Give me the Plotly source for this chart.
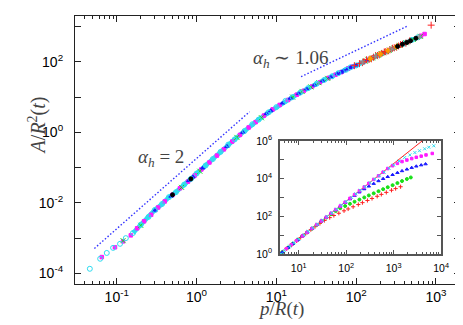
import plotly.graph_objects as go

# main plot: scaled data A/R^2 vs p/R, one list pair per colour
cyan_x = [0.046, 0.062, 0.075, 0.09, 0.11, 0.13, 0.16, 0.2, 0.25, 0.3, 0.37, 0.45, 0.55, 0.7, 0.85,
          1.0, 1.3, 1.6, 2.0, 2.5, 3.0, 4.0, 5.0, 6.0, 8.0, 10, 13, 16, 20, 25, 32, 40, 50, 60, 75,
          85, 100, 400, 500, 600]
cyan_y = [1.35e-4, 2.6e-4, 3.8e-4, 5.3e-4, 6.9e-4, 1.0e-3, 1.4e-3, 2.4e-3, 4.0e-3, 6.3e-3, 9.3e-3, 1.45e-2,
          2.0e-2, 3.3e-2, 4.8e-2, 6.8e-2, 0.115, 0.175, 0.28, 0.45, 0.63, 1.1, 1.7, 2.3, 3.7, 5.2, 7.8,
          10, 13.5, 18, 24, 31, 39, 48, 60, 70, 79, 331, 420, 500]

magenta_x = [0.065, 0.095, 0.12, 0.15, 0.18, 0.22, 0.27, 0.33, 0.4, 0.5, 0.62, 0.78, 0.95, 1.15, 1.45,
             1.8, 2.2, 2.8, 3.5, 4.5, 5.5, 7, 9, 11, 14, 18, 22, 28, 35, 45, 55, 65, 80, 90, 650, 720]
magenta_y = [2.9e-4, 5.5e-4, 8.1e-4, 1.2e-3, 1.9e-3, 3.0e-3, 4.6e-3, 7.4e-3, 1.1e-2, 1.7e-2, 2.6e-2,
             4.0e-2, 6.0e-2, 8.9e-2, 0.14, 0.22, 0.33, 0.55, 0.85, 1.38, 1.95, 3.0, 4.5, 6.0, 8.3, 11.7,
             15, 20, 26, 35, 43, 51, 66, 73, 550, 617]

blue_x = [0.3, 0.48, 0.8, 0.9, 1.2, 2.4, 3.8, 7.5, 8.5, 12, 15, 19, 24, 30, 38, 48, 58, 65, 70, 78, 85,
          92, 100, 120, 140]
blue_y = [6.0e-3, 1.55e-2, 4.3e-2, 5.4e-2, 9.8e-2, 0.40, 1.0, 3.4, 4.1, 6.8, 9.3, 12.6, 17, 22, 29, 37,
          46, 51, 56, 63, 69, 74, 81, 98, 115]

green_x = [0.12, 0.2, 0.65, 1.1, 3.2, 6.5, 16, 21, 27, 34, 44, 130, 140, 160, 175, 190, 205, 220, 240,
           260, 280, 300, 350, 420, 520, 640]
green_y = [8.5e-4, 2.3e-3, 2.75e-2, 7.9e-2, 0.72, 2.6, 10, 14.5, 19.5, 25.7, 34, 105, 118, 129, 140,
           155, 172, 182, 196, 214, 238, 251, 295, 350, 430, 530]

red_x = [95, 110, 120, 125, 135, 145, 155, 165, 175, 185, 195, 210, 225, 235, 250, 265, 285, 300, 320,
         340, 360, 380, 420, 470, 870]
red_y = [78, 89, 95, 102, 115, 117, 122, 135, 150, 151, 158, 174, 192, 195, 203, 219, 243, 251, 262,
         282, 310, 316, 340, 395, 1100]

black_x = [0.5, 0.85, 330, 380, 430, 480, 560]
black_y = [1.7e-2, 4.8e-2, 275, 316, 355, 398, 468]

orange_x = [150, 200, 250, 320]
orange_y = [123, 166, 209, 269]

gray_x = [120, 175, 280, 450, 620]
gray_y = [98, 145, 234, 372, 513]

# reference slopes (dotted)
slope2_x = [0.0525, 4.62]
slope2_y = [5.1e-4, 3.85]
slope106_x = [20.4, 442]
slope106_y = [38, 1047]

# inset: unscaled A vs p
in_cyan_x = [4.2, 5, 6.5, 8, 10, 13, 16, 20, 25, 32, 40, 50, 63, 80, 100, 130, 160, 200, 250, 320, 400,
             500, 630, 800, 1000, 1300, 1700, 2200, 2800, 3500, 4500, 5500, 7000]
in_cyan_y = [1.0, 1.5, 2.6, 4, 6.2, 10.5, 16, 25, 38, 63, 98, 150, 240, 390, 600, 1000, 1550, 2400, 3700,
             6000, 9300, 1.4e4, 2.2e4, 3.5e4, 5.3e4, 8.5e4, 1.3e5, 1.8e5, 2.4e5, 3.0e5, 3.8e5, 4.6e5, 5.5e5]

in_mag_x = [5.5, 7, 9, 12, 15, 19, 24, 30, 38, 48, 60, 75, 95, 120, 150, 190, 240, 300, 380, 480, 600,
            750, 950, 1200, 1500, 1900, 2400, 3000, 3800, 4800, 6500]
in_mag_y = [1.9, 3.1, 5.1, 9, 14, 22.5, 36, 56, 90, 144, 225, 350, 560, 900, 1400, 2250, 3600, 5600, 9000,
            1.4e4, 2.2e4, 3.4e4, 4.8e4, 6.4e4, 8.0e4, 9.6e4, 1.15e5, 1.35e5, 1.55e5, 1.8e5, 2.15e5]

in_blue_x = [4.5, 6, 7.5, 9.5, 12, 15, 19, 24, 30, 38, 48, 60, 75, 95, 120, 150, 190, 240, 300, 380,
             480, 600, 750, 950, 1200, 1500, 1900, 2400, 3000, 3800, 4700]
in_blue_y = [1.25, 2.2, 3.5, 5.6, 9, 14, 22.5, 36, 56, 90, 144, 220, 340, 520, 820, 1250, 1900, 2800,
             3900, 5400, 7500, 9800, 1.25e4, 1.6e4, 2.05e4, 2.55e4, 3.1e4, 3.8e4, 4.5e4, 5.2e4, 5.9e4]

in_green_x = [4.5, 6, 7.5, 9.5, 12, 15, 19, 24, 30, 38, 48, 60, 75, 95, 120, 150, 190, 240, 300, 380,
              480, 600, 750, 950, 1200, 1500, 1900, 2300]
in_green_y = [1.25, 2.2, 3.5, 5.6, 9, 14, 22, 35, 54, 85, 130, 190, 270, 350, 460, 590, 770, 1000, 1280,
              1650, 2150, 2750, 3500, 4500, 5800, 7400, 9500, 1.15e4]

in_red_x = [4.5, 5.5, 7, 9, 11, 14, 18, 22, 28, 35, 45, 55, 70, 90, 110, 140, 180, 220, 280, 350, 450,
            550, 700, 900, 1100, 1400]
in_red_y = [1.25, 1.9, 3.0, 5.0, 7.5, 12, 19.5, 28, 42, 60, 85, 110, 145, 195, 245, 320, 420, 530, 690,
            880, 1150, 1450, 1850, 2400, 2950, 3700]

in_line_x = [4, 4000]
in_line_y = [1, 1e6]

CYAN = '#2fdcf0'
MAGENTA = '#ff1aff'
BLUE = '#1a1aff'
GREEN = '#18e018'
RED = '#ff2020'

fig = go.Figure()

def pts(x, y, color, symbol, size, xa='x', ya='y', lw=1):
    fig.add_trace(go.Scatter(x=x, y=y, mode='markers', xaxis=xa, yaxis=ya,
                             marker=dict(color=color, symbol=symbol, size=size,
                                         line=dict(color=color, width=lw))))

dotted = dict(color='#3333ff', width=1.4, dash='1.5px,2px')
fig.add_trace(go.Scatter(x=slope2_x, y=slope2_y, mode='lines', line=dotted))
fig.add_trace(go.Scatter(x=slope106_x, y=slope106_y, mode='lines', line=dotted))

# thick cyan band under the scattered points (the sparse low end stays as single markers)
fig.add_trace(go.Scatter(x=cyan_x[6:], y=cyan_y[6:], mode='lines', line=dict(color=CYAN, width=4.5)))

pts(magenta_x, magenta_y, MAGENTA, 'square', 3.5)
pts(green_x, green_y, GREEN, 'x-thin-open', 5)
pts(blue_x, blue_y, BLUE, 'triangle-up', 4)
pts(cyan_x, cyan_y, CYAN, 'circle-open', 5)
pts(red_x, red_y, RED, 'cross-thin-open', 5)
pts(orange_x, orange_y, '#ff9900', 'diamond', 4)
pts(gray_x, gray_y, '#909090', 'asterisk-open', 5)
pts(black_x, black_y, 'black', 'circle', 4)

# inset
fig.add_trace(go.Scatter(x=in_line_x, y=in_line_y, mode='lines', xaxis='x2', yaxis='y2',
                         line=dict(color=RED, width=1)))
pts(in_red_x, in_red_y, RED, 'cross-thin-open', 3, 'x2', 'y2')
pts(in_green_x, in_green_y, GREEN, 'circle', 3, 'x2', 'y2')
pts(in_blue_x, in_blue_y, BLUE, 'triangle-up', 3, 'x2', 'y2')
pts(in_mag_x, in_mag_y, MAGENTA, 'square', 2.5, 'x2', 'y2')
pts(in_cyan_x, in_cyan_y, CYAN, 'x-thin-open', 3, 'x2', 'y2')

def sup(e):
    return '10<sup>%d</sup>' % e

minor_main = [m * 10.0 ** e for e in range(-2, 4) for m in range(2, 10)]
minor_in = [m * 10.0 ** e for e in range(0, 4) for m in range(2, 10)]

tickfont = dict(family='Liberation Sans, Arial, sans-serif', size=14, color='black')
inset_font = dict(family='Liberation Sans, Arial, sans-serif', size=10.5, color='black')

fig.update_layout(
    width=463, height=325,
    margin=dict(l=67, r=11, t=8, b=49, autoexpand=False),
    paper_bgcolor='white', plot_bgcolor='white',
    showlegend=False,
    xaxis=dict(type='log', range=[-1.523, 3.301], showgrid=False, zeroline=False, automargin=False,
               showline=True, linecolor='#222', linewidth=1.2, mirror='ticks',
               ticks='inside', ticklen=6, tickcolor='#222',
               tickvals=[10.0 ** e for e in range(-1, 4)],
               ticktext=[sup(e) for e in range(-1, 4)], tickfont=tickfont, ticklabelstandoff=0,
               minor=dict(ticks='inside', ticklen=3, tickcolor='#222', tickvals=minor_main)),
    yaxis=dict(type='log', range=[-4.301, 3.301], showgrid=False, zeroline=False, automargin=False,
               showline=True, linecolor='#222', linewidth=1.2, mirror='ticks',
               ticks='inside', ticklen=6, tickcolor='#222',
               tickvals=[10.0 ** e for e in range(-4, 4)],
               ticktext=[sup(e) if e % 2 == 0 else '' for e in range(-4, 4)],
               tickfont=tickfont, ticklabelstandoff=8),
    xaxis2=dict(type='log', range=[0.602, 4.0], domain=[0.532, 0.951], anchor='y2', automargin=False,
                showgrid=False, zeroline=False, showline=True, linecolor='#555', linewidth=1.5,
                mirror='ticks', ticks='inside', ticklen=4, tickcolor='#555',
                tickvals=[10.0 ** e for e in range(1, 5)],
                ticktext=[sup(e) for e in range(1, 5)], tickfont=inset_font, ticklabelstandoff=4,
                minor=dict(ticks='inside', ticklen=2, tickcolor='#555', tickvals=minor_in)),
    yaxis2=dict(type='log', range=[0, 6], domain=[0.112, 0.534], anchor='x2', automargin=False,
                showgrid=False, zeroline=False, showline=True, linecolor='#555', linewidth=1.5,
                mirror='ticks', ticks='inside', ticklen=4, tickcolor='#555',
                tickvals=[10.0 ** e for e in range(0, 7)],
                ticktext=[sup(e) if e % 2 == 0 else '' for e in range(0, 7)],
                tickfont=inset_font, ticklabelstandoff=4),
)

serif = 'Liberation Serif, Times New Roman, serif'
fig.add_annotation(x=-0.135, y=0.59, xref='paper', yref='paper', textangle=-90, showarrow=False,
                   text='<i>A</i>/<i>R</i><sup>2</sup>(<i>t</i>)', font=dict(family=serif, size=20, color='#444'))
fig.add_annotation(x=0.535, y=-0.14, xref='paper', yref='paper', showarrow=False,
                   text='<i>p</i>/<i>R</i>(<i>t</i>)', font=dict(family=serif, size=19, color='#444'))
fig.add_annotation(x=0.158, y=0.47, xref='paper', yref='paper', showarrow=False,
                   text='<i>α<sub>h</sub></i> = 2', font=dict(family=serif, size=19, color='#444'))
fig.add_annotation(x=0.561, y=0.892, xref='paper', yref='paper', showarrow=False,
                   text='<i>α<sub>h</sub></i> ∼ 1.06', font=dict(family=serif, size=19, color='#444'))

fig.write_html("out.html")
